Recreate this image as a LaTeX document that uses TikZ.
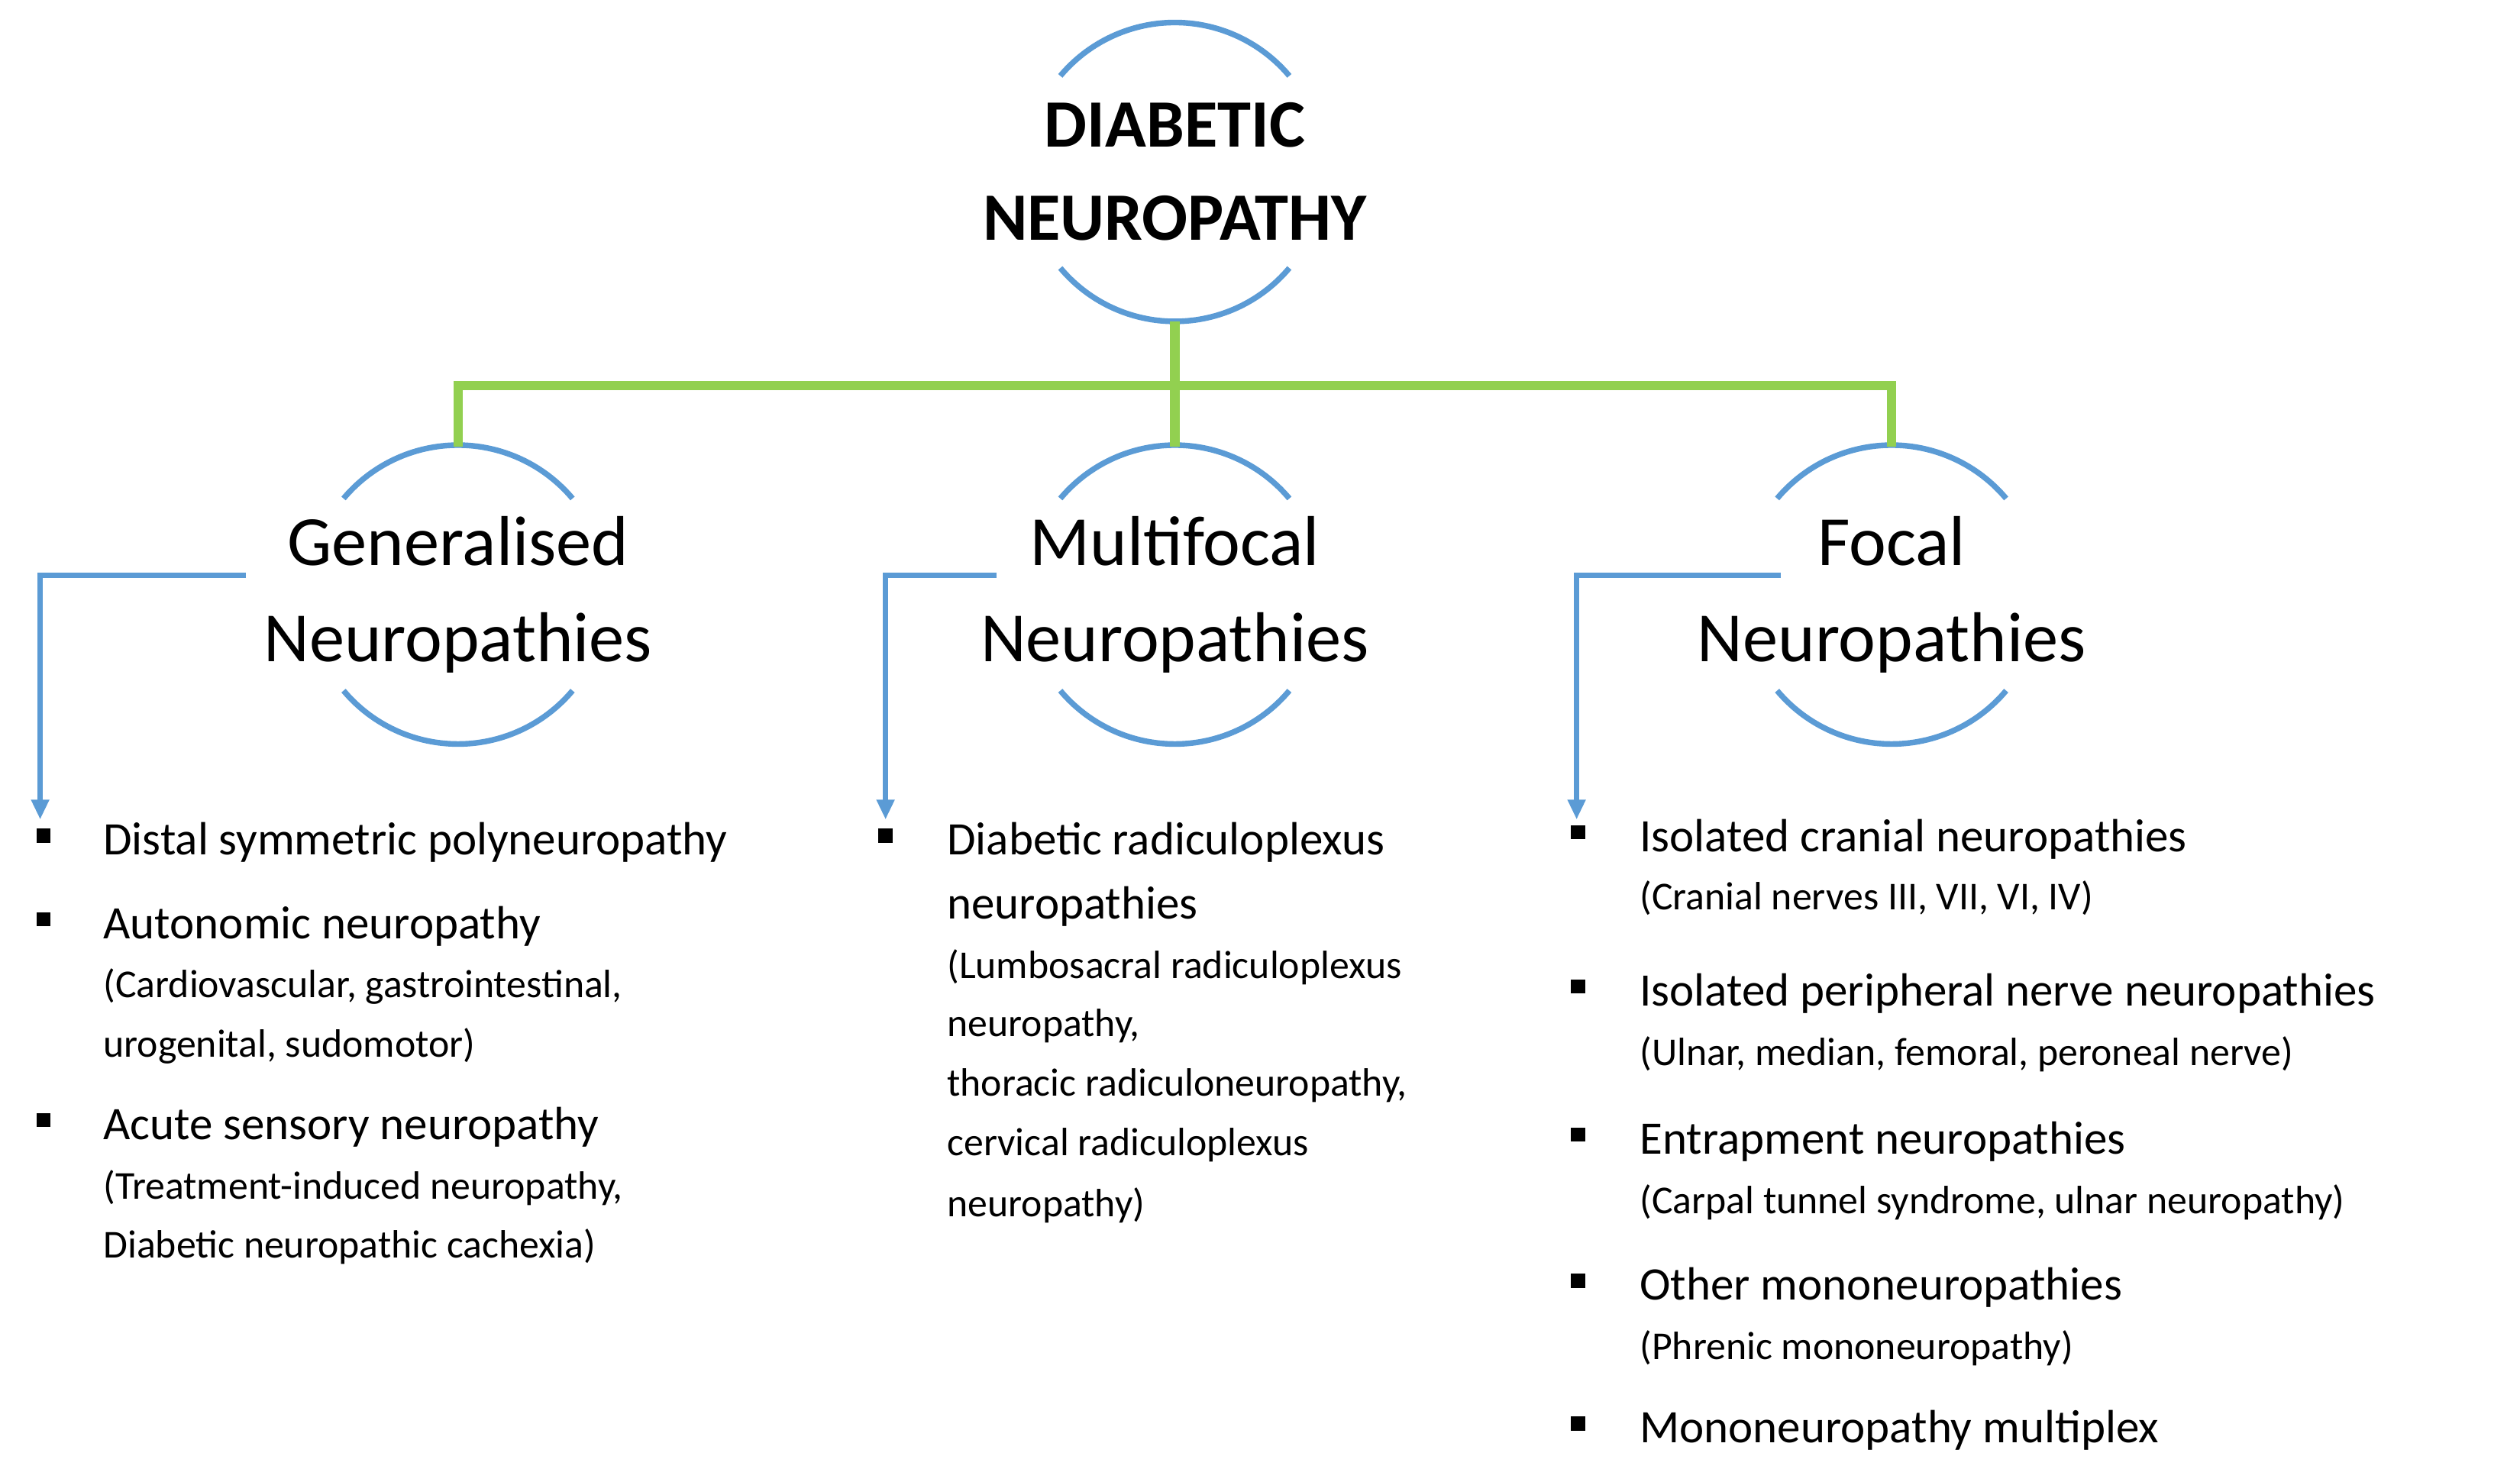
\documentclass[tikz,border=0pt]{standalone}
\usepackage{fontspec}
\setmainfont{Carlito}
\usetikzlibrary{arrows.meta}
\definecolor{cblue}{RGB}{91,155,213}
\definecolor{cgreen}{RGB}{146,208,80}
\begin{document}
\begin{tikzpicture}[x=0.02cm,y=-0.02cm,
  ring/.style={cblue,line width=2pt},
  grn/.style={cgreen,line width=3.4pt},
  arr/.style={cblue,line width=1.8pt,-{Triangle[length=7pt,width=6pt]}},
  main/.style={anchor=base west,inner sep=0,font=\fontsize{16.5}{19}\selectfont},
  sub/.style={anchor=base west,inner sep=0,font=\fontsize{14}{17}\selectfont},
  bul/.style={fill=black,minimum size=5pt,inner sep=0},
  cat/.style={align=center,font=\fontsize{25}{34}\selectfont},
  ttl/.style={align=center,font=\fontsize{24}{33}\selectfont\bfseries}]
\useasboundingbox (0,0) rectangle (1568,914);
% circles
\foreach \n/\cx/\cy in {t/731/107,g/285/370,m/731/370,f/1177/370}{
  \draw[ring] (\cx,\cy) ++(40:93) arc (40:140:93);
  \draw[ring] (\cx,\cy) ++(220:93) arc (220:320:93);
}
\node[ttl] (T) at (731,107) {DIABETIC\\NEUROPATHY};
\node[cat] (G) at (285,370) {Generalised\\Neuropathies};
\node[cat] (M) at (731,370) {Multifocal\\Neuropathies};
\node[cat] (F) at (1177,370) {Focal\\Neuropathies};
% green connectors
\coordinate (t0) at (731,200); \coordinate (tj) at (731,240);
\coordinate (gj) at (285,240); \coordinate (fj) at (1177,240);
\coordinate (g0) at (285,278); \coordinate (m0) at (731,278); \coordinate (f0) at (1177,278);
\draw[grn] (t0) -- (m0);
\draw[grn] (g0) -- (gj) -- (fj) -- (f0);
% blue arrows
\coordinate (ga) at (153,358); \coordinate (gb) at (25,510);
\coordinate (ma) at (620,358); \coordinate (mb) at (551,510);
\coordinate (fa) at (1108,358); \coordinate (fb) at (981,510);
\draw[arr] (ga) -| (gb);
\draw[arr] (ma) -| (mb);
\draw[arr] (fa) -| (fb);
% generalised list
\node[bul] (gb1) at (27,520) {}; \node[main] (g1) at (64,532) {Distal symmetric polyneuropathy};
\node[bul] (gb2) at (27,572) {}; \node[main] (g2) at (64,584) {Autonomic neuropathy};
\node[sub] (g3) at (64,621) {(Cardiovascular, gastrointestinal,};
\node[sub] (g4) at (64,658) {urogenital, sudomotor)};
\node[bul] (gb3) at (27,697) {}; \node[main] (g5) at (64,709) {Acute sensory neuropathy};
\node[sub] (g6) at (64,746) {(Treatment-induced neuropathy,};
\node[sub] (g7) at (64,783) {Diabetic neuropathic cachexia)};
% multifocal list
\node[bul] (mb1) at (551,520) {}; \node[main] (m1) at (589,532) {Diabetic radiculoplexus};
\node[main] (m2) at (589,572) {neuropathies};
\node[sub] (m3) at (589,609) {(Lumbosacral radiculoplexus};
\node[sub] (m4) at (589,645) {neuropathy,};
\node[sub] (m5) at (589,682) {thoracic radiculoneuropathy,};
\node[sub] (m6) at (589,719) {cervical radiculoplexus};
\node[sub] (m7) at (589,757) {neuropathy)};
% focal list
\node[bul] (fb1) at (982,518) {}; \node[main] (f1) at (1020,530) {Isolated cranial neuropathies};
\node[sub] (f2) at (1020,566) {(Cranial nerves III, VII, VI, IV)};
\node[bul] (fb2) at (982,614) {}; \node[main] (f3) at (1020,626) {Isolated peripheral nerve neuropathies};
\node[sub] (f4) at (1020,663) {(Ulnar, median, femoral, peroneal nerve)};
\node[bul] (fb3) at (982,706) {}; \node[main] (f5) at (1020,718) {Entrapment neuropathies};
\node[sub] (f6) at (1020,755) {(Carpal tunnel syndrome, ulnar neuropathy)};
\node[bul] (fb4) at (982,797) {}; \node[main] (f7) at (1020,809) {Other mononeuropathies};
\node[sub] (f8) at (1020,846) {(Phrenic mononeuropathy)};
\node[bul] (fb5) at (982,886) {}; \node[main] (f9) at (1020,898) {Mononeuropathy multiplex};
\end{tikzpicture}
\end{document}
